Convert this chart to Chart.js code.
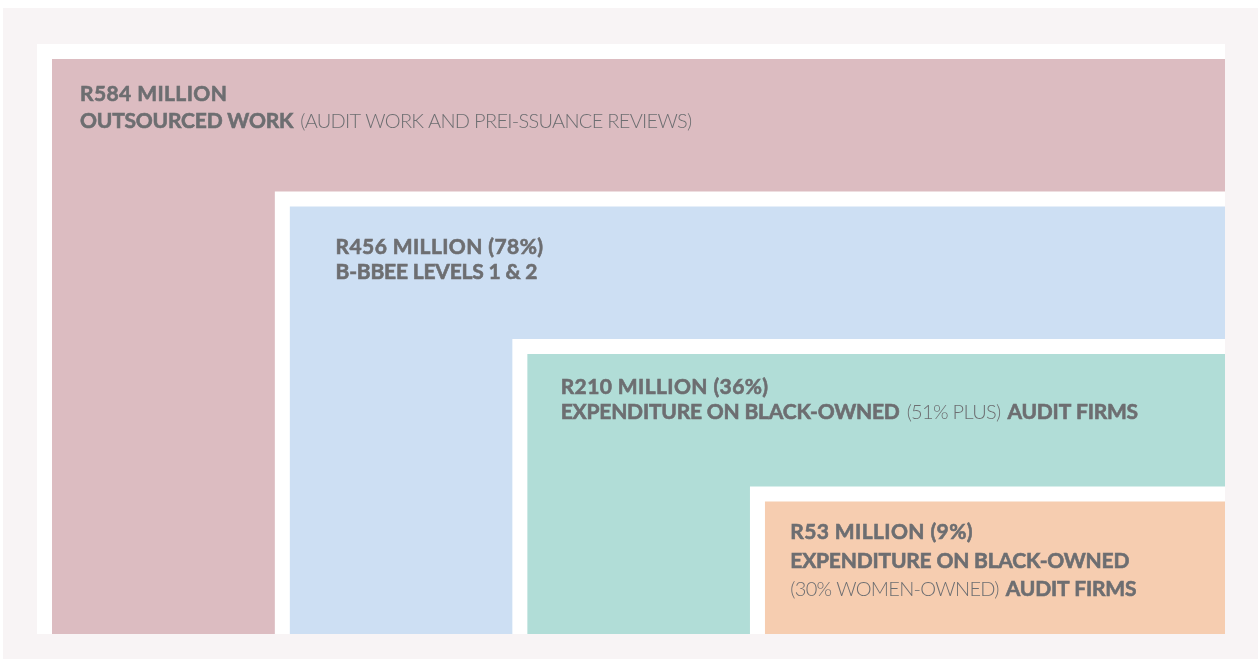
<!DOCTYPE html>
<html lang="en">
<head>
<meta charset="UTF-8">
<title>Outsourced audit work spend</title>
<script src="https://cdn.jsdelivr.net/npm/chart.js"></script>
<style>
  html, body { margin: 0; padding: 0; background: #fff; }
  canvas { display: block; }
</style>
</head>
<body>
<canvas id="spendChart" width="1258" height="659"></canvas>
<script>
// Nested spend boxes, outermost first
const spendMillions = [584, 456, 210, 53];
const spendShare = [null, 78, 36, 9];
const boxCaptions = [
  [['OUTSOURCED WORK', 'b'], ['(AUDIT WORK AND PREI-SSUANCE REVIEWS)', 'l']],
  [['B-BBEE LEVELS 1 & 2', 'b']],
  [['EXPENDITURE ON BLACK-OWNED', 'b'], ['(51% PLUS)', 'l'], ['AUDIT FIRMS', 'b']],
  [['EXPENDITURE ON BLACK-OWNED', 'b']],
];
const boxCaptionsExtra = [null, null, null, [['(30% WOMEN-OWNED)', 'l'], ['AUDIT FIRMS', 'b']]];
// top-left corner of each box on a 0-100 grid over the card
const boxLeft = [0, 20, 40, 60];
const boxTop = [0, 25, 50, 75];

const boxColors = ['#dcbcc1', '#cddff3', '#b1ddd7', '#f6cdb0'];
const textColor = '#6d6e71';
const pad = { left: 37, top: 44, right: 33, bottom: 25 };
const cardW = 1258 - pad.left - pad.right;
const cardH = 659 - pad.top - pad.bottom;
// white gap between a box and its frame, in px
const gap = 15;
const insetX = gap / cardW * 100;
const insetY = gap / cardH * 100;
// label placement inside each coloured box (px from its top-left)
const labelX = [28, 46, 33.5, 25.5];
const labelBaselines = [[41.5, 68.5], [47.5, 72.5], [39.5, 65], [37, 66.5, 94]];

function rect(left, top, color) {
  return {
    data: [{ x: left, y: top }, { x: 100, y: top }],
    backgroundColor: color,
    borderColor: 'transparent',
    borderWidth: 0,
    pointRadius: 0,
    fill: { value: 100 }
  };
}

const datasets = [];
spendMillions.forEach((v, i) => {
  datasets.push(rect(boxLeft[i], boxTop[i], '#ffffff'));
  datasets.push(rect(boxLeft[i] + insetX, boxTop[i] + insetY, boxColors[i]));
});
// earlier datasets have to be painted first
datasets.forEach((d, k) => { d.order = datasets.length - k; });

const pageBackground = {
  id: 'pageBackground',
  beforeDraw(chart) {
    const ctx = chart.ctx;
    ctx.save();
    ctx.fillStyle = '#ffffff';
    ctx.fillRect(0, 0, chart.width, chart.height);
    ctx.fillStyle = '#f8f4f5';
    ctx.fillRect(3, 8, chart.width - 3, chart.height - 8);
    ctx.restore();
  }
};

// one text line made of heavy and light runs
function drawLine(ctx, segs, x, y, tracking) {
  segs.forEach(([text, w]) => {
    if (w === 'b') {
      ctx.font = '700 21px Lato';
      ctx.letterSpacing = tracking + 'px';
      ctx.fillText(text, x, y);
      ctx.lineWidth = 0.6;
      ctx.strokeText(text, x, y);
    } else {
      ctx.font = '300 20px Lato';
      ctx.letterSpacing = '-0.7px';
      ctx.fillText(text, x, y);
    }
    x += ctx.measureText(text).width + 7;
  });
}

const boxLabels = {
  id: 'boxLabels',
  afterDatasetsDraw(chart) {
    const ctx = chart.ctx;
    const xs = chart.scales.x, ys = chart.scales.y;
    ctx.save();
    ctx.fillStyle = textColor;
    ctx.strokeStyle = textColor;
    ctx.textBaseline = 'alphabetic';
    spendMillions.forEach((v, i) => {
      const x0 = xs.getPixelForValue(boxLeft[i] + insetX) + labelX[i];
      const y0 = ys.getPixelForValue(boxTop[i] + insetY);
      const title = 'R' + v + ' MILLION' + (spendShare[i] ? ' (' + spendShare[i] + '%)' : '');
      const lines = [[[title, 'b']], boxCaptions[i]];
      if (boxCaptionsExtra[i]) lines.push(boxCaptionsExtra[i]);
      lines.forEach((segs, j) => drawLine(ctx, segs, x0, y0 + labelBaselines[i][j], j === 0 ? 0.4 : -0.2));
    });
    ctx.restore();
  }
};

new Chart(document.getElementById('spendChart'), {
  type: 'line',
  data: { datasets: datasets },
  options: {
    responsive: false,
    animation: false,
    events: [],
    layout: { padding: pad },
    scales: {
      x: { type: 'linear', min: 0, max: 100, display: false },
      y: { type: 'linear', min: 0, max: 100, reverse: true, display: false }
    },
    plugins: { legend: { display: false }, tooltip: { enabled: false } }
  },
  plugins: [pageBackground, boxLabels]
});
</script>
</body>
</html>
